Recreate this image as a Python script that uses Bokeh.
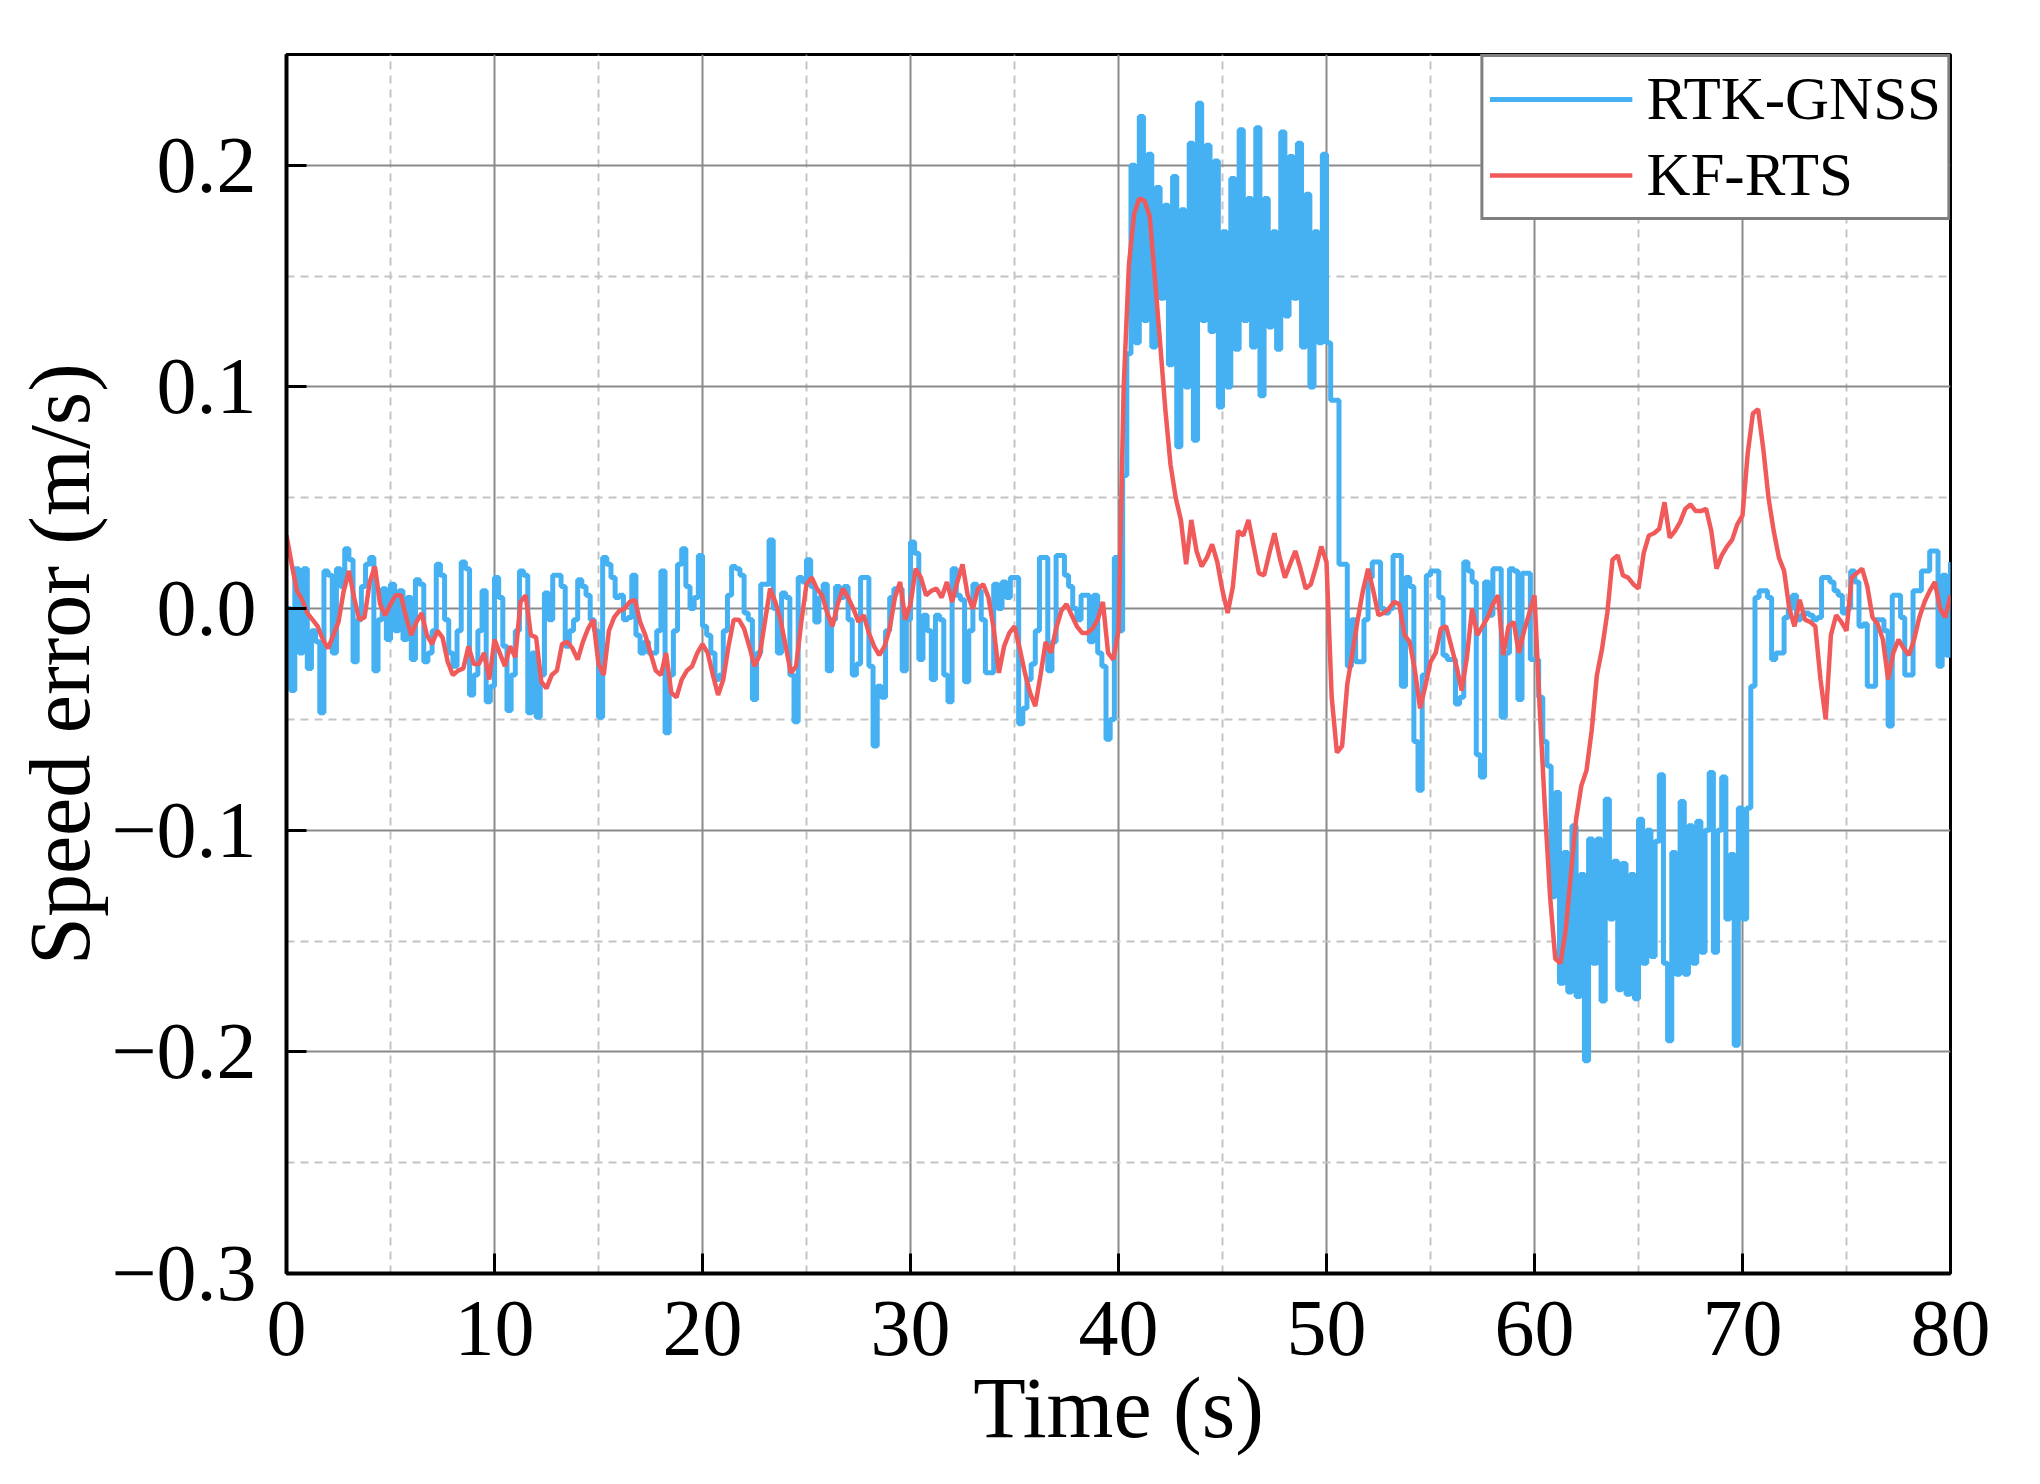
import numpy as np

from bokeh.core.properties import value
from bokeh.embed import file_html
from bokeh.models import (ColumnDataSource, CustomJSTickFormatter, FixedTicker,
                          Legend, LegendItem, Range1d)
from bokeh.plotting import figure
from bokeh.resources import INLINE

# RTK-GNSS speed error (m/s), one value every 0.2 s, split in segments
rtk_0_20 = [0.0, -0.037, 0.018, -0.02, 0.018, -0.027, -0.01, -0.015, -0.047, 0.017,
            0.015, -0.02, 0.018, 0.01, 0.027, 0.022, -0.024, -0.005, 0.01, 0.02,
            0.023, -0.028, -0.005, 0.009, -0.014, 0.011, -0.01, 0.008, -0.014, 0.005,
            -0.023, 0.013, 0.011, -0.024, -0.02, -0.01, 0.02, 0.015, -0.005, -0.02,
            -0.026, -0.01, 0.021, 0.018, -0.039, -0.03, -0.01, 0.008, -0.042, -0.035,
            0.014, 0.005, -0.017, -0.046, -0.03, -0.01, 0.017, 0.015, -0.047, -0.02,
            -0.049, -0.03, 0.007, -0.005, 0.015, 0.015, 0.01, -0.017, -0.01, -0.005,
            0.013, 0.01, 0.006, -0.005, -0.01, -0.049, 0.023, 0.02, 0.014, 0.005,
            0.006, -0.005, -0.004, 0.015, -0.012, -0.02, -0.015, -0.02, -0.02, -0.01,
            0.017, -0.056, -0.03, -0.01, 0.02, 0.027, 0.01, 0.0, 0.005, 0.024,
            -0.008]
rtk_20_40 = [-0.012, -0.02, -0.032, -0.03, -0.01, 0.006, 0.019, 0.018, 0.015, -0.002,
             -0.005, -0.041, -0.02, 0.011, 0.011, 0.031, 0.0, -0.02, 0.007, 0.005,
             -0.03, -0.051, 0.014, 0.012, 0.022, 0.01, -0.006, 0.005, 0.011, -0.028,
             -0.005, 0.01, 0.005, 0.01, -0.005, -0.03, -0.025, 0.014, 0.014, -0.026,
             -0.062, -0.035, -0.04, -0.01, 0.005, 0.009, 0.009, -0.028, -0.005, 0.03,
             0.025, -0.023, -0.003, -0.01, -0.032, -0.003, -0.005, -0.03, -0.042, 0.018,
             0.006, 0.004, -0.033, -0.01, 0.011, 0.008, -0.005, -0.029, -0.029, 0.011,
             0.0, 0.012, 0.005, 0.014, 0.014, -0.052, -0.045, -0.032, -0.025, -0.01,
             0.023, 0.023, -0.028, -0.015, 0.024, 0.024, 0.015, 0.01, 0.0, -0.005,
             0.006, 0.006, -0.015, 0.006, -0.02, -0.026, -0.059, -0.05, 0.023, -0.01]
rtk_40_50 = [0.06, 0.115, 0.2, 0.12, 0.222, 0.13, 0.205, 0.118, 0.19, 0.14,
             0.182, 0.11, 0.195, 0.073, 0.18, 0.1, 0.21, 0.076, 0.228, 0.13,
             0.209, 0.125, 0.202, 0.091, 0.17, 0.1, 0.194, 0.117, 0.216, 0.13,
             0.185, 0.118, 0.217, 0.096, 0.185, 0.127, 0.17, 0.117, 0.215, 0.132,
             0.204, 0.14, 0.21, 0.118, 0.187, 0.1, 0.17, 0.12, 0.205, 0.12]
rtk_50_60 = [0.094, 0.094, 0.02, 0.02, -0.026, -0.005, -0.024, -0.024, -0.005, 0.014,
             0.021, 0.021, 0.0, -0.002, 0.0, 0.024, 0.024, -0.035, 0.014, 0.01,
             -0.06, -0.082, -0.03, 0.015, 0.017, 0.017, 0.005, -0.021, -0.023, -0.023,
             -0.043, -0.04, 0.021, 0.017, 0.012, -0.066, -0.076, 0.012, -0.003, 0.018,
             0.018, -0.049, -0.02, 0.018, 0.017, -0.041, 0.016, 0.016, -0.023, -0.023]
rtk_60_70 = [-0.04, -0.06, -0.071, -0.13, -0.083, -0.169, -0.11, -0.173, -0.098, -0.175,
             -0.12, -0.204, -0.104, -0.16, -0.104, -0.177, -0.086, -0.14, -0.114, -0.172,
             -0.115, -0.174, -0.12, -0.176, -0.095, -0.16, -0.1, -0.157, -0.105, -0.075,
             -0.16, -0.195, -0.11, -0.165, -0.087, -0.165, -0.098, -0.16, -0.096, -0.155,
             -0.1, -0.074, -0.155, -0.1, -0.076, -0.14, -0.111, -0.197, -0.09, -0.14]
rtk_70_80 = [-0.09, -0.035, 0.005, 0.008, 0.008, 0.005, -0.023, -0.02, -0.02, -0.004,
             0.0, 0.006, -0.005, -0.003, -0.002, -0.003, -0.005, -0.004, 0.014, 0.014,
             0.012, 0.008, 0.006, -0.002, 0.0, 0.017, 0.012, -0.008, -0.007, -0.035,
             -0.035, -0.005, -0.005, -0.01, -0.053, 0.006, 0.006, -0.004, -0.03, -0.03,
             0.008, 0.008, 0.017, 0.017, 0.026, 0.026, -0.026, 0.015, -0.021, 0.021]

# KF-RTS speed error (m/s), one value every 0.25 s
kf_0_20 = [0.033, 0.02, 0.008, 0.004, -0.002, -0.005, -0.008, -0.014, -0.018, -0.012,
           -0.006, 0.008, 0.017, 0.005, -0.005, -0.004, 0.012, 0.019, 0.002, -0.003,
           0.002, 0.006, 0.006, -0.004, -0.012, -0.006, -0.002, -0.012, -0.016, -0.01,
           -0.013, -0.024, -0.03, -0.028, -0.027, -0.017, -0.025, -0.025, -0.02, -0.032,
           -0.014, -0.02, -0.026, -0.017, -0.022, 0.003, 0.006, -0.012, -0.013, -0.033,
           -0.036, -0.03, -0.028, -0.016, -0.015, -0.018, -0.023, -0.015, -0.009, -0.005,
           -0.025, -0.03, -0.01, -0.004, -0.001, 0.0, 0.003, 0.004, -0.006, -0.012,
           -0.02, -0.028, -0.03, -0.02, -0.038, -0.04, -0.032, -0.028, -0.026, -0.02,
           -0.016]
kf_20_40 = [-0.02, -0.03, -0.039, -0.032, -0.017, -0.005, -0.005, -0.009, -0.017, -0.026,
            -0.021, -0.006, 0.009, 0.003, -0.005, -0.017, -0.029, -0.026, -0.006, 0.011,
            0.014, 0.009, 0.006, -0.002, -0.008, 0.002, 0.009, 0.005, 0.0, -0.006,
            -0.003, -0.011, -0.017, -0.021, -0.017, -0.009, 0.005, 0.012, -0.005, 0.002,
            0.018, 0.014, 0.006, 0.008, 0.009, 0.005, 0.012, 0.003, 0.012, 0.02,
            0.006, 0.0, 0.009, 0.011, 0.005, -0.009, -0.029, -0.017, -0.011, -0.008,
            -0.018, -0.029, -0.038, -0.044, -0.03, -0.015, -0.02, -0.009, -0.001, 0.002,
            -0.003, -0.008, -0.011, -0.011, -0.009, -0.005, 0.003, -0.02, -0.023, -0.01]
kf_40_50 = [0.1, 0.155, 0.178, 0.185, 0.184, 0.177, 0.149, 0.12, 0.09, 0.065,
            0.05, 0.04, 0.02, 0.04, 0.026, 0.019, 0.023, 0.029, 0.021, 0.008,
            -0.002, 0.01, 0.035, 0.033, 0.04, 0.028, 0.016, 0.015, 0.025, 0.034,
            0.023, 0.014, 0.02, 0.026, 0.018, 0.009, 0.011, 0.019, 0.028, 0.021]
kf_50_60 = [-0.04, -0.065, -0.062, -0.034, -0.02, -0.005, 0.008, 0.018, 0.008, -0.003,
            -0.002, 0.0, 0.003, 0.002, -0.012, -0.015, -0.028, -0.045, -0.035, -0.024,
            -0.02, -0.009, -0.008, -0.017, -0.026, -0.037, -0.022, 0.0, -0.012, -0.008,
            -0.004, 0.002, 0.006, -0.021, -0.008, -0.006, -0.02, -0.01, -0.002, 0.006]
kf_60_70 = [-0.045, -0.09, -0.13, -0.158, -0.16, -0.145, -0.12, -0.095, -0.08, -0.073,
            -0.055, -0.03, -0.018, -0.002, 0.022, 0.024, 0.015, 0.014, 0.011, 0.009,
            0.025, 0.033, 0.034, 0.036, 0.048, 0.032, 0.035, 0.039, 0.045, 0.047,
            0.044, 0.044, 0.045, 0.035, 0.018, 0.024, 0.028, 0.031, 0.038, 0.042]
kf_70_80 = [0.07, 0.088, 0.09, 0.072, 0.05, 0.035, 0.023, 0.017, 0.0, -0.008,
            0.004, -0.005, -0.006, -0.008, -0.032, -0.05, -0.012, -0.003, -0.006, -0.01,
            0.014, 0.016, 0.018, 0.01, -0.004, -0.007, -0.014, -0.032, -0.02, -0.014,
            -0.018, -0.021, -0.014, -0.004, 0.003, 0.008, 0.012, 0.0, -0.004, 0.006]

rtk_segments = [(0.0, 20.0, rtk_0_20), (20.2, 40.0, rtk_20_40), (40.2, 50.0, rtk_40_50),
                (50.2, 60.0, rtk_50_60), (60.2, 70.0, rtk_60_70), (70.2, 80.0, rtk_70_80)]
kf_segments = [(0.0, 20.0, kf_0_20), (20.25, 40.0, kf_20_40), (40.25, 50.0, kf_40_50),
               (50.25, 60.0, kf_50_60), (60.25, 70.0, kf_60_70), (70.25, 80.0, kf_70_80)]


def join(segments):
    t = np.concatenate([np.linspace(a, b, len(v)) for a, b, v in segments])
    y = np.concatenate([np.array(v) for a, b, v in segments])
    return t, y


t_rtk, y_rtk = join(rtk_segments)
t_kf, y_kf = join(kf_segments)

x_ticks = [0, 10, 20, 30, 40, 50, 60, 70, 80]
x_minor = [5, 15, 25, 35, 45, 55, 65, 75]
y_ticks = [-0.3, -0.2, -0.1, 0.0, 0.1, 0.2]
y_minor = [-0.25, -0.15, -0.05, 0.05, 0.15]

FONT = "Liberation Serif"
BLUE = "#45B1F2"
RED = "#F05A5A"

p = figure(width=2020, height=1470, output_backend="svg", toolbar_location=None,
           x_range=Range1d(0, 80), y_range=Range1d(-0.3, 0.25),
           min_border_left=286, min_border_right=70, min_border_top=54,
           min_border_bottom=197)

p.background_fill_color = "white"
p.border_fill_color = "white"
p.outline_line_color = "black"
p.outline_line_width = 3

p.xaxis.ticker = FixedTicker(ticks=x_ticks, minor_ticks=x_minor)
p.yaxis.ticker = FixedTicker(ticks=y_ticks, minor_ticks=y_minor)
p.yaxis.formatter = CustomJSTickFormatter(
    code="return (tick < -1e-9 ? '\u2212' : '') + Math.abs(tick).toFixed(1);")

for ax in (p.xaxis[0], p.yaxis[0]):
    ax.axis_line_color = "black"
    ax.axis_line_width = 4
    ax.major_tick_in = 20
    ax.major_tick_out = 0
    ax.major_tick_line_width = 3
    ax.major_tick_line_color = "black"
    ax.minor_tick_line_color = None
    ax.major_label_text_font = FONT
    ax.major_label_text_font_size = "80px"
    ax.major_label_text_color = "black"
    ax.axis_label_text_font = FONT
    ax.axis_label_text_font_size = "86px"
    ax.axis_label_text_font_style = "normal"
    ax.axis_label_text_color = "black"

p.xaxis.axis_label = "Time (s)"
p.yaxis.axis_label = "Speed error (m/s)"
p.xaxis.major_label_standoff = 24
p.yaxis.major_label_standoff = 26
p.xaxis.axis_label_standoff = 2
p.yaxis.axis_label_standoff = 0

for g in (p.xgrid[0], p.ygrid[0]):
    g.grid_line_color = "#8a8a8a"
    g.grid_line_width = 2
    g.minor_grid_line_color = "#c4c4c4"
    g.minor_grid_line_width = 2
    g.minor_grid_line_dash = "8 6"

src_rtk = ColumnDataSource(dict(t=t_rtk, v=y_rtk))
src_kf = ColumnDataSource(dict(t=t_kf, v=y_kf))

r_rtk = p.step("t", "v", source=src_rtk, mode="after", line_color=BLUE, line_width=5)
r_kf = p.line("t", "v", source=src_kf, line_color=RED, line_width=4.5)

legend = Legend(items=[LegendItem(label="RTK-GNSS", renderers=[r_rtk]),
                       LegendItem(label="KF-RTS", renderers=[r_kf])],
                location="top_right", margin=0, padding=6, spacing=4,
                glyph_width=143, glyph_height=72, label_height=72,
                label_standoff=14, label_text_font=FONT,
                label_text_font_size="61px", label_text_color="black",
                border_line_color="black", border_line_width=3,
                background_fill_color="white", background_fill_alpha=1.0)
p.add_layout(legend, "center")

open("out.html", "w").write(file_html(p, INLINE))
